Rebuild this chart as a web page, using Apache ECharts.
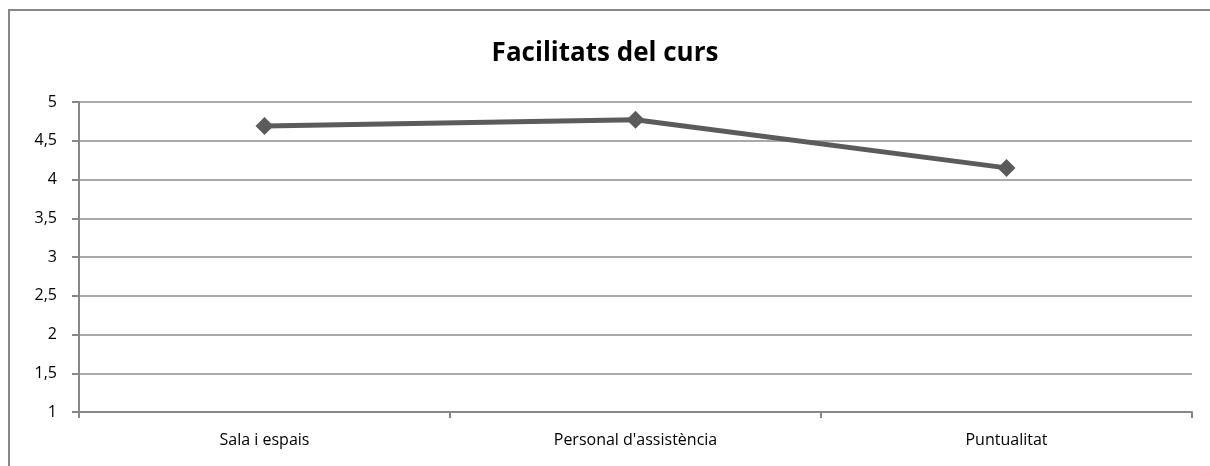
<!DOCTYPE html>
<html>
<head>
<meta charset="utf-8">
<script src="https://cdn.jsdelivr.net/npm/echarts@6/dist/echarts.min.js"></script>
<style>
  html, body { margin: 0; padding: 0; background: #fff; }
  #chart { width: 1210px; height: 466px; }
</style>
</head>
<body>
<div id="chart"></div>
<script>
const titleText = 'Facilitats del curs'
const categories = ['Sala i espais', "Personal d'assistència", 'Puntualitat']
const values = [4.69, 4.77, 4.15]

const chart = echarts.init(document.getElementById('chart'))

chart.setOption({
  animation: false,
  title: {
    text: titleText,
    left: 'center',
    top: 36,
    textStyle: {
      fontFamily: 'Open Sans',
      fontWeight: 'bold',
      fontSize: 26,
      color: '#000'
    }
  },
  graphic: [{
    type: 'rect',
    silent: true,
    shape: { x: 9, y: 10, width: 1400, height: 600 },
    style: { fill: 'none', stroke: '#878787', lineWidth: 2 }
  }],
  grid: {
    left: 79,
    right: 18,
    top: 102,
    bottom: 54
  },
  xAxis: {
    type: 'category',
    data: categories,
    boundaryGap: true,
    axisLine: { lineStyle: { color: '#878787', width: 2 } },
    axisTick: { show: true, length: 6, lineStyle: { color: '#878787', width: 2 } },
    axisLabel: {
      color: '#000',
      fontFamily: 'Open Sans',
      fontSize: 16,
      margin: 20
    }
  },
  yAxis: {
    type: 'value',
    min: 1,
    max: 5,
    interval: 0.5,
    axisLine: { show: true, lineStyle: { color: '#878787', width: 2 } },
    axisTick: { show: true, length: 7, lineStyle: { color: '#878787', width: 2 } },
    splitLine: { lineStyle: { color: '#8c8c8c', width: 1.5 } },
    axisLabel: {
      color: '#000',
      fontFamily: 'Open Sans',
      fontSize: 16,
      margin: 22,
      formatter: v => String(v).replace('.', ',')
    }
  },
  series: [{
    type: 'line',
    data: values,
    symbol: 'diamond',
    symbolSize: 18,
    lineStyle: { color: '#5b5b5b', width: 5 },
    itemStyle: { color: '#5b5b5b' }
  }]
})
</script>
</body>
</html>
